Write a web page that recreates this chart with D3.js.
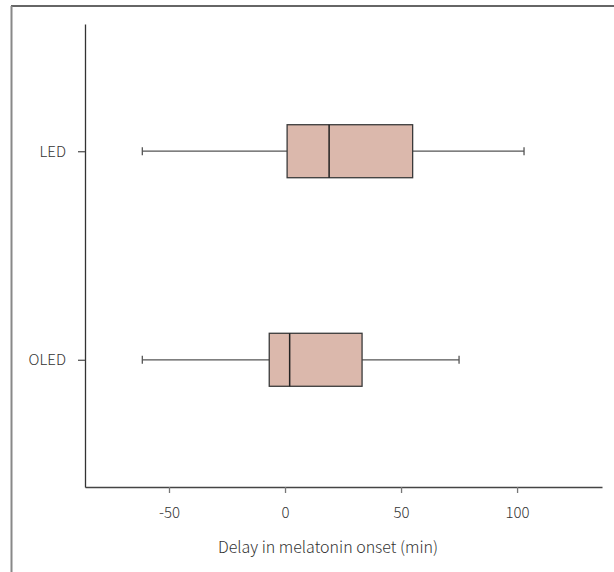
<!DOCTYPE html>
<html>
<head>
<meta charset="utf-8">
<script src="https://cdn.jsdelivr.net/npm/d3@7"></script>
<style>
  body { margin: 0; background: #fff; }
  text { font-family: "Noto Sans CJK KR", "Noto Sans", sans-serif; font-weight: 300; fill: #333; }
</style>
</head>
<body>
<svg id="chart" width="614" height="572"></svg>
<script>
// box plot values (min)
var groups = ["LED", "OLED"];
var whiskerLow = [-61.5, -61.5];
var q1 = [0.9, -6.8];
var median = [19, 2];
var q3 = [55, 33.2];
var whiskerHigh = [103, 75];
var xTicks = [-50, 0, 50, 100];

var svg = d3.select("#chart");

// outer frame (top + left edge only)
svg.append("line").attr("x1", 11).attr("x2", 614).attr("y1", 6).attr("y2", 6)
  .attr("stroke", "#333").attr("stroke-width", 1.5);
svg.append("line").attr("x1", 11.5).attr("x2", 11.5).attr("y1", 6).attr("y2", 572)
  .attr("stroke", "#888").attr("stroke-width", 2);

var plotLeft = 85, plotRight = 602, plotTop = 24, plotBottom = 487;

var x = d3.scaleLinear().domain([-86.2, 136.6]).range([plotLeft, plotRight]);
var y = d3.scalePoint().domain(groups).range([plotTop, plotBottom]).padding(0.61);

var xAxis = svg.append("g")
  .attr("transform", "translate(0," + plotBottom + ")")
  .call(d3.axisBottom(x).tickValues(xTicks).tickFormat(function(d) { return String(d); })
    .tickSize(6).tickPadding(14).tickSizeOuter(0));
xAxis.select(".domain").attr("stroke", "#444").attr("stroke-width", 1.3);
xAxis.selectAll(".tick line").attr("stroke", "#777").attr("stroke-width", 1.3);
xAxis.selectAll("text").style("font-size", "15px").attr("fill", "#333");

var yAxis = svg.append("g")
  .attr("transform", "translate(" + plotLeft + ",0)")
  .call(d3.axisLeft(y).tickSize(7).tickPadding(12).tickSizeOuter(0));
yAxis.select(".domain").attr("stroke", "#333").attr("stroke-width", 1.3);
yAxis.selectAll(".tick line").attr("stroke", "#555").attr("stroke-width", 1.3);
yAxis.selectAll("text").style("font-size", "15px").attr("fill", "#333");

svg.append("text")
  .attr("x", 328)
  .attr("y", 553)
  .attr("text-anchor", "middle")
  .style("font-size", "16px")
  .text("Delay in melatonin onset (min)");

var boxH = 53, capH = 8;
var rows = groups.map(function(g, i) {
  return { g: g, lo: whiskerLow[i], q1: q1[i], med: median[i], q3: q3[i], hi: whiskerHigh[i] };
});

var box = svg.append("g").selectAll("g").data(rows).enter().append("g");

// whiskers
box.append("line")
  .attr("x1", function(d) { return x(d.lo); })
  .attr("x2", function(d) { return x(d.q1); })
  .attr("y1", function(d) { return y(d.g); })
  .attr("y2", function(d) { return y(d.g); })
  .attr("stroke", "#555").attr("stroke-width", 1.3);
box.append("line")
  .attr("x1", function(d) { return x(d.q3); })
  .attr("x2", function(d) { return x(d.hi); })
  .attr("y1", function(d) { return y(d.g); })
  .attr("y2", function(d) { return y(d.g); })
  .attr("stroke", "#555").attr("stroke-width", 1.3);
box.append("line")
  .attr("x1", function(d) { return x(d.lo); })
  .attr("x2", function(d) { return x(d.lo); })
  .attr("y1", function(d) { return y(d.g) - capH / 2; })
  .attr("y2", function(d) { return y(d.g) + capH / 2; })
  .attr("stroke", "#555").attr("stroke-width", 1.3);
box.append("line")
  .attr("x1", function(d) { return x(d.hi); })
  .attr("x2", function(d) { return x(d.hi); })
  .attr("y1", function(d) { return y(d.g) - capH / 2; })
  .attr("y2", function(d) { return y(d.g) + capH / 2; })
  .attr("stroke", "#555").attr("stroke-width", 1.3);

// boxes
box.append("rect")
  .attr("x", function(d) { return x(d.q1); })
  .attr("width", function(d) { return x(d.q3) - x(d.q1); })
  .attr("y", function(d) { return y(d.g) - boxH / 2; })
  .attr("height", boxH)
  .attr("fill", "#dbb8ac")
  .attr("stroke", "#3a3a3a").attr("stroke-width", 1.3);

// median
box.append("line")
  .attr("x1", function(d) { return x(d.med); })
  .attr("x2", function(d) { return x(d.med); })
  .attr("y1", function(d) { return y(d.g) - boxH / 2; })
  .attr("y2", function(d) { return y(d.g) + boxH / 2; })
  .attr("stroke", "#222").attr("stroke-width", 1.5);
</script>
</body>
</html>
